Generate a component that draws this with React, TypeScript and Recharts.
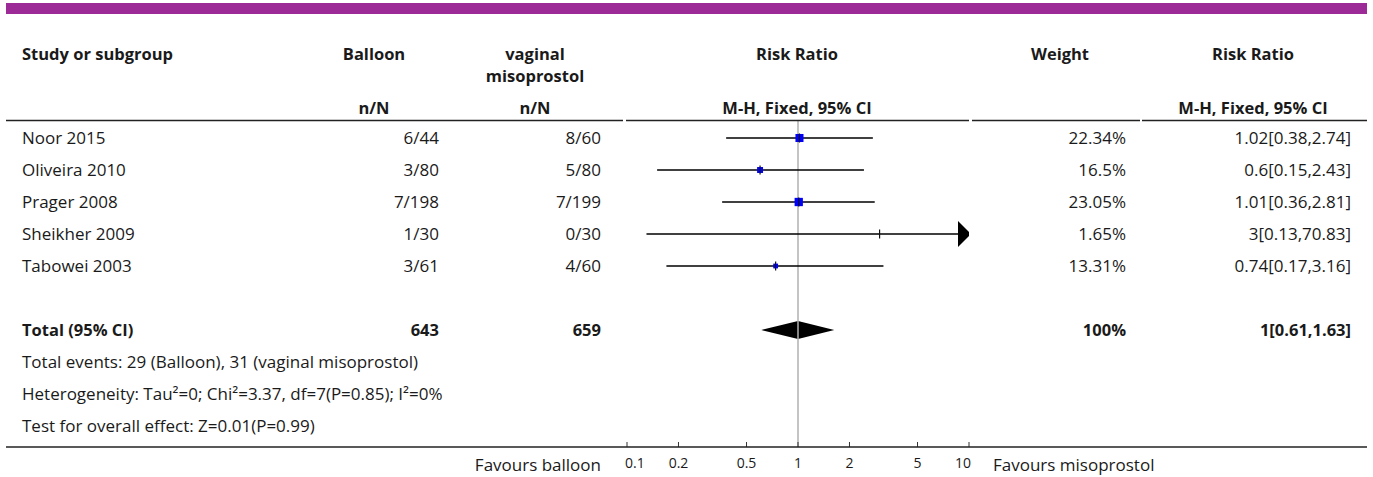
import { ComposedChart, Scatter, Area, XAxis, YAxis, ReferenceLine } from 'recharts'

// study rows
const studies = ['Noor 2015', 'Oliveira 2010', 'Prager 2008', 'Sheikher 2009', 'Tabowei 2003']
const balloonEvents = ['6/44', '3/80', '7/198', '1/30', '3/61']
const misoEvents = ['8/60', '5/80', '7/199', '0/30', '4/60']
const riskRatio = [1.02, 0.6, 1.01, 3, 0.74]
const ciLow = [0.38, 0.15, 0.36, 0.13, 0.17]
const ciHigh = [2.74, 2.43, 2.81, 70.83, 3.16]
const weights = [22.34, 16.5, 23.05, 1.65, 13.31]
const weightLabels = ['22.34%', '16.5%', '23.05%', '1.65%', '13.31%']
const ciLabels = ['1.02[0.38,2.74]', '0.6[0.15,2.43]', '1.01[0.36,2.81]', '3[0.13,70.83]', '0.74[0.17,3.16]']

// pooled result
const totalRow = 6
const totalBalloon = '643'
const totalMiso = '659'
const totalRR = 1
const totalLow = 0.61
const totalHigh = 1.63
const totalWeight = '100%'
const totalLabel = '1[0.61,1.63]'

const footLines = [
  'Total events: 29 (Balloon), 31 (vaginal misoprostol)',
  'Heterogeneity: Tau\u00b2=0; Chi\u00b2=3.37, df=7(P=0.85); I\u00b2=0%',
  'Test for overall effect: Z=0.01(P=0.99)',
]

const xTicks = [0.1, 0.2, 0.5, 1, 2, 5, 10]
const axisMin = 0.1
const axisMax = 10

const W = 1373
const H = 477
const FONT = '"Open Sans", sans-serif'
const INK = '#1a1a1a'
const ROW_TOP = 138
const ROW_H = 32
const DIAMOND_HALF = 0.28

const rowY = (i: number) => ROW_TOP + i * ROW_H

const points = studies.map((s, i) => ({ x: riskRatio[i], y: i, weight: weights[i] }))
const arrows = studies
  .map((s, i) => ({ x: axisMax, y: i, over: ciHigh[i] > axisMax }))
  .filter((d) => d.over)
const diamond = [
  { x: totalLow, band: [totalRow, totalRow] },
  { x: totalRR, band: [totalRow - DIAMOND_HALF, totalRow + DIAMOND_HALF] },
  { x: totalHigh, band: [totalRow, totalRow] },
]

const StudyMarker = (props: any) => {
  const { cx, cy, payload } = props
  const side = payload.weight * 0.36
  return (
    <g>
      <rect x={cx - side / 2} y={cy - side / 2} width={side} height={side} fill="#0000ff" />
      <line x1={cx} x2={cx} y1={cy - 4.5} y2={cy + 4.5} stroke="#111" strokeWidth={1.2} />
    </g>
  )
}

const ArrowHead = (props: any) => {
  const { cx, cy } = props
  return <polygon points={`${cx - 11},${cy - 13} ${cx + 2},${cy} ${cx - 11},${cy + 13}`} fill="#000" />
}

const AxisTick = (props: any) => {
  const { x, y, payload, index } = props
  const last = index === xTicks.length - 1
  const anchor = index === 0 ? 'start' : last ? 'end' : 'middle'
  const tx = index === 0 ? x - 2 : last ? x + 2 : x
  return (
    <g>
      <line x1={x} x2={x} y1={y - 5} y2={y} stroke="#333" strokeWidth={1} />
      <text x={tx} y={y + 21} textAnchor={anchor} fontSize={14} fill={INK} fontFamily={FONT}>
        {payload.value}
      </text>
    </g>
  )
}

export default function App() {
  const t = (x: number, y: number, s: string, anchor = 'start', bold = false) => (
    <text x={x} y={y} textAnchor={anchor} fontWeight={bold ? 700 : 400} fontSize={bold ? 16.5 : 17}>
      {s}
    </text>
  )

  return (
    <div style={{ position: 'absolute', left: 0, top: 0, width: W, height: H, background: '#fff' }}>
      <ComposedChart width={W} height={H} margin={{ top: 120, right: 404, bottom: 0, left: 627 }}>
        <XAxis
          dataKey="x"
          type="number"
          scale="log"
          domain={[axisMin, axisMax]}
          ticks={xTicks}
          allowDataOverflow
          height={30}
          axisLine={false}
          tickLine={false}
          tickSize={0}
          tickMargin={0}
          tick={<AxisTick />}
        />
        <YAxis dataKey="y" type="number" domain={[-0.5625, 9.65625]} reversed hide allowDataOverflow />
        <ReferenceLine x={1} stroke="#b0b0b0" strokeWidth={1.5} ifOverflow="visible" />
        {studies.map((s, i) => (
          <ReferenceLine
            key={s}
            segment={[
              { x: Math.max(ciLow[i], axisMin), y: i },
              { x: Math.min(ciHigh[i], axisMax), y: i },
            ]}
            stroke="#000"
            strokeWidth={1.3}
            ifOverflow="visible"
          />
        ))}
        <Area
          data={diamond}
          dataKey="band"
          type="linear"
          stroke="none"
          fill="#000"
          fillOpacity={1}
          isAnimationActive={false}
          dot={false}
          activeDot={false}
        />
        <Scatter data={points} shape={<StudyMarker />} isAnimationActive={false} />
        <Scatter data={arrows} shape={<ArrowHead />} isAnimationActive={false} />
      </ComposedChart>

      <svg
        width={W}
        height={H}
        style={{ position: 'absolute', left: 0, top: 0, pointerEvents: 'none' }}
        fontFamily={FONT}
        fill={INK}
      >
        <rect x={6} y={3} width={1361} height={11} fill="#9c2a97" />

        {t(22, 60, 'Study or subgroup', 'start', true)}
        {t(374, 60, 'Balloon', 'middle', true)}
        {t(535, 60, 'vaginal', 'middle', true)}
        {t(535, 82, 'misoprostol', 'middle', true)}
        {t(797, 60, 'Risk Ratio', 'middle', true)}
        {t(1060, 60, 'Weight', 'middle', true)}
        {t(1253, 60, 'Risk Ratio', 'middle', true)}
        {t(374, 114, 'n/N', 'middle', true)}
        {t(535, 114, 'n/N', 'middle', true)}
        {t(797, 114, 'M-H, Fixed, 95% CI', 'middle', true)}
        {t(1253, 114, 'M-H, Fixed, 95% CI', 'middle', true)}

        <line x1={6} x2={623} y1={120.5} y2={120.5} stroke="#222" strokeWidth={1.5} />
        <line x1={626} x2={969} y1={120.5} y2={120.5} stroke="#222" strokeWidth={1.5} />
        <line x1={972} x2={1140} y1={120.5} y2={120.5} stroke="#222" strokeWidth={1.5} />
        <line x1={1142} x2={1367} y1={120.5} y2={120.5} stroke="#222" strokeWidth={1.5} />

        {studies.map((s, i) => (
          <g key={s}>
            {t(22, rowY(i) + 6, s)}
            {t(439, rowY(i) + 6, balloonEvents[i], 'end')}
            {t(601, rowY(i) + 6, misoEvents[i], 'end')}
            {t(1126, rowY(i) + 6, weightLabels[i], 'end')}
            {t(1351, rowY(i) + 6, ciLabels[i], 'end')}
          </g>
        ))}

        {t(22, rowY(totalRow) + 6, 'Total (95% CI)', 'start', true)}
        {t(439, rowY(totalRow) + 6, totalBalloon, 'end', true)}
        {t(601, rowY(totalRow) + 6, totalMiso, 'end', true)}
        {t(1126, rowY(totalRow) + 6, totalWeight, 'end', true)}
        {t(1351, rowY(totalRow) + 6, totalLabel, 'end', true)}

        {footLines.map((s, k) => (
          <g key={k}>{t(22, rowY(totalRow + 1 + k) + 6, s)}</g>
        ))}

        <line x1={6} x2={1367} y1={447} y2={447} stroke="#222" strokeWidth={1.5} />
        {t(601, 471, 'Favours balloon', 'end')}
        {t(993, 471, 'Favours misoprostol', 'start')}
      </svg>
    </div>
  )
}
